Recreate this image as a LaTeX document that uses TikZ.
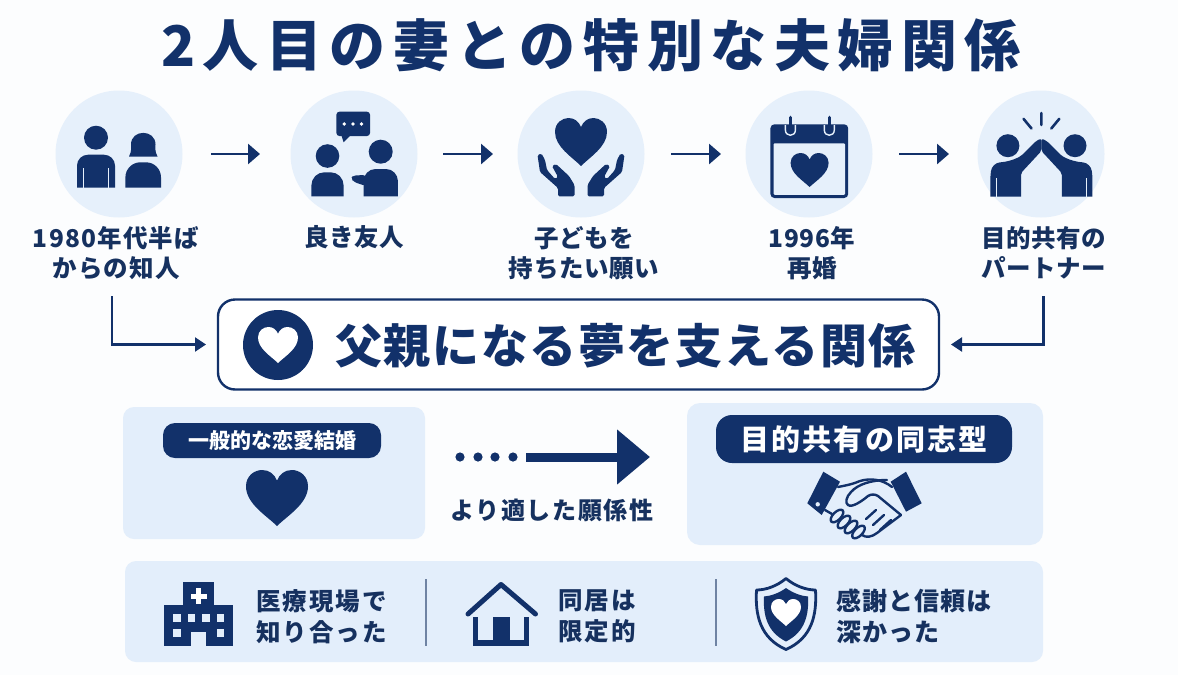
\documentclass[tikz,border=0pt]{standalone}
\usepackage{fontspec}
\setmainfont{Noto Sans CJK JP}
\usetikzlibrary{arrows.meta,shapes.geometric}
\definecolor{navy}{HTML}{12316A}
\definecolor{ink}{HTML}{16315F}
\definecolor{circ}{HTML}{E6F0FB}
\definecolor{panel}{HTML}{E3EEFB}
\definecolor{bgc}{HTML}{FCFDFE}
\definecolor{rule}{HTML}{6F83A3}
\newcommand{\jpf}[2]{\fontsize{#1}{#1}\selectfont\bfseries\addfontfeature{LetterSpace=#2}}
\newcommand{\heartat}[5]{\fill[#5,shift={(#1,#2)},xscale=#3,yscale=#4] (0,1) .. controls (-0.35,0.62) and (-1,0.2) .. (-1,-0.42) .. controls (-1,-0.8) and (-0.72,-1) .. (-0.48,-1) .. controls (-0.25,-1) and (-0.08,-0.85) .. (0,-0.62) .. controls (0.08,-0.85) and (0.25,-1) .. (0.48,-1) .. controls (0.72,-1) and (1,-0.8) .. (1,-0.42) .. controls (1,0.2) and (0.35,0.62) .. (0,1) -- cycle;}
\tikzset{
  stepdisc/.style={circle,fill=circ,minimum size=127pt,inner sep=0pt,outer sep=0pt},
  steplabel/.style={text=ink,align=center,inner sep=0pt,font={\jpf{24.5}{2.5}\baselineskip=29.5pt}},
  panelbox/.style={rectangle,fill=panel,rounded corners=11pt,inner sep=0pt,outer sep=0pt},
  pillbox/.style={rectangle,fill=navy,rounded corners=13pt,inner sep=0pt,outer sep=0pt,text=white},
  sidetext/.style={text=ink,align=left,anchor=west,inner sep=0pt,font={\jpf{24.5}{8}\baselineskip=31pt}},
  flow/.style={draw=navy,line width=2.8pt,-{Triangle[length=12pt,width=20pt]}},
  feed/.style={draw=navy,line width=2.1pt,-{Triangle[length=11pt,width=14pt]}},
  ico/.style={fill=navy},
  hs/.style={draw=navy,line width=2.4pt,line cap=round,line join=round},
}
\begin{document}
\begin{tikzpicture}[x=1pt,y=-1pt]
\useasboundingbox (0,0) rectangle (1178,675);
\fill[bgc] (0,0) rectangle (1178,675);

\node[text=navy,inner sep=0pt,font={\jpf{56}{13.5}}] (title) at (591,45) {2人目の妻との特別な夫婦関係};

% step discs
\node[stepdisc] (c1) at (119,154) {};
\node[stepdisc] (c2) at (354,154) {};
\node[stepdisc] (c3) at (581,154) {};
\node[stepdisc] (c4) at (809,154) {};
\node[stepdisc] (c5) at (1041,154) {};

\draw[flow,shorten <=28.5pt,shorten >=30.5pt] (c1) -- (c2);
\draw[flow,shorten <=25.5pt,shorten >=24.5pt] (c2) -- (c3);
\draw[flow,shorten <=26.5pt,shorten >=24.5pt] (c3) -- (c4);
\draw[flow,shorten <=26.5pt,shorten >=28.5pt] (c4) -- (c5);

% labels
\node[steplabel,font={\jpf{24.5}{5}\baselineskip=29.5pt}] (l1) at (116,253) {1980年代半ば\\からの知人};
\node[steplabel] (l2) at (354,237) {良き友人};
\node[steplabel] (l3) at (584,253) {子どもを\\持ちたい願い};
\node[steplabel] (l4) at (812,253) {1996年\\再婚};
\node[steplabel] (l5) at (1044,253) {目的共有の\\パートナー};

% icon 1: two people
\fill[ico] (96,137.7) circle[radius=12pt];
\fill[ico] (77,187.7) [rounded corners=11pt] -- (77,154.7) -- (115,154.7) [sharp corners] -- (115,187.7) -- cycle;
\draw[circ,line width=1pt] (83.5,168) -- (83.5,187.7) (108.5,168) -- (108.5,187.7);
\fill[ico] (125.4,187.7) [rounded corners=15pt] -- (125.4,162.3) -- (161,162.3) [sharp corners] -- (161,187.7) -- cycle;
\fill[ico] (129,156.5) .. controls (132,151) and (131,147) .. (131,144.5) .. controls (131,129) and (155.5,129) .. (155.5,144.5) .. controls (155.5,147) and (154.5,151) .. (157.5,156.5) -- cycle;

% icon 2: two people talking
\fill[ico,rounded corners=3pt] (336.4,111.7) rectangle (370,136);
\fill[ico] (341,134) -- (343.6,142.3) -- (352,134) -- cycle;
\foreach \dx in {344.3,352.9,361.4} \fill[white] (\dx,124) circle[radius=1.9pt];
\fill[ico] (327.5,156) circle[radius=11.8pt];
\fill[ico] (311.4,196.3) [rounded corners=13pt] -- (311.4,172.3) -- (343.6,172.3) [sharp corners] -- (343.6,196.3) -- cycle;
\fill[ico] (380.7,151.7) circle[radius=12pt];
\fill[ico] (363.6,196.3) [rounded corners=12pt] -- (363.6,169) -- (397.9,169) [sharp corners] -- (397.9,196.3) -- cycle;
\fill[ico,rounded corners=3pt] (366,175) -- (353,175.5) -- (351,178.5) -- (354,182) -- (366,186) -- cycle;

% icon 3: heart in hands
\heartat{581}{142}{26}{24}{navy}
\fill[ico,rounded corners=1.5pt] (541.5,153.5) -- (537.5,155) -- (540,172) -- (558,188) -- (558,196.3) -- (574.5,196.3) -- (574.5,185) -- (569,176) -- (556,164) -- (552,166) -- (558,177) -- (555,179) -- (547,170) -- (545,160) -- cycle;
\fill[ico,rounded corners=1.5pt] (620.5,153.5) -- (624.5,155) -- (622,172) -- (604,188) -- (604,196.3) -- (587.5,196.3) -- (587.5,185) -- (593,176) -- (606,164) -- (610,166) -- (604,177) -- (607,179) -- (615,170) -- (617,160) -- cycle;

% icon 4: calendar
\fill[ico,rounded corners=4pt] (770.4,124.3) rectangle (848.2,198);
\fill[circ,rounded corners=1pt] (773.6,143.3) rectangle (845,194.8);
\foreach \rx in {790.4,829.3}{
  \draw[circ,line width=1.4pt] (\rx-5,125) -- (\rx-5,130) .. controls (\rx-5,137) and (\rx+5,137) .. (\rx+5,130) -- (\rx+5,125);
  \draw[navy,line width=3.6pt,line cap=round] (\rx,117.5) -- (\rx,131);
}
\heartat{809.6}{170}{19}{17}{navy}

% icon 5: high five
\fill[ico] (1007.9,145.7) circle[radius=11.5pt];
\fill[ico] (1075,145.7) circle[radius=11.5pt];
\fill[ico,rounded corners=2.5pt] (990.4,196.7) -- (990.4,176) [rounded corners=8pt] -- (992,163) -- (1010,161.5) [rounded corners=2pt] -- (1021,156) -- (1036,141) -- (1041.4,138.5) -- (1041.4,151) -- (1021,173) [sharp corners] -- (1021,196.7) -- cycle;
\fill[ico,rounded corners=2.5pt] (1092.4,196.7) -- (1092.4,176) [rounded corners=8pt] -- (1090.8,163) -- (1072.8,161.5) [rounded corners=2pt] -- (1061.8,156) -- (1046.8,141) -- (1041.4,138.5) -- (1041.4,151) -- (1061.8,173) [sharp corners] -- (1061.8,196.7) -- cycle;
\draw[circ,line width=1pt] (996,178) -- (996,196.7) (1086.8,178) -- (1086.8,196.7);
\draw[navy,line width=2.6pt,line cap=round] (1041.4,113) -- (1041.4,125) (1023.5,118.8) -- (1031.5,128.5) (1059.3,118.8) -- (1051.3,128.5);

% central box
\node[draw=navy,line width=2.4pt,fill=white,rounded corners=17pt,minimum width=721pt,minimum height=90pt,inner sep=0pt,outer sep=0pt] (hero) at (578.5,344.5) {};
\fill[ico] (278,345) circle[radius=35pt];
\heartat{278}{345}{20}{18}{white}
\node[text=navy,inner sep=0pt,font={\jpf{47}{3.5}}] (herotext) at (625.5,346) {父親になる夢を支える関係};

\coordinate (s1) at (112,296);
\coordinate (s5) at (1043.5,296);
\draw[feed,shorten >=12pt] (s1) |- (hero.west);
\draw[feed,shorten >=12pt] (s5) |- (hero.east);

% left comparison panel
\node[panelbox,minimum width=302pt,minimum height=132pt] (pl) at (274,473) {};
\node[pillbox,rounded corners=12pt,minimum width=218pt,minimum height=35pt,font={\jpf{21}{0}}] (pilll) at (272,440.5) {一般的な恋愛結婚};
\heartat{277}{498}{31}{28}{navy}

% middle arrow
\foreach \dx in {460,478,495,513} \fill[navy] (\dx,457) circle[radius=4.6pt];
\coordinate (b0) at (526,457);
\coordinate (b1) at (650,457);
\draw[navy,line width=9pt,-{Triangle[length=33pt,width=53pt]}] (b0) -- (b1);
\node[text=ink,inner sep=0pt,font={\jpf{24}{7}}] (midl) at (552,510) {より適した願係性};

% right comparison panel
\node[panelbox,minimum width=356pt,minimum height=142pt,rounded corners=13pt] (pr) at (865,474) {};
\node[pillbox,rounded corners=16pt,minimum width=296pt,minimum height=48pt,font={\jpf{29}{7}}] (pillr) at (864,439) {目的共有の同志型};

% handshake
\fill[ico] (823.3,471.7) -- (840,481.7) -- (821.7,515) -- (807.3,503.3) -- cycle;
\fill[ico] (906,471.7) -- (921.7,503.3) -- (906,511.7) -- (890.7,481.7) -- cycle;
\fill[panel] (817.7,504.3) circle[radius=2.2pt];
\draw[hs] (838,487) .. controls (848,485) and (853,484) .. (860,481) .. controls (870,478) and (882,479) .. (892,487);
\draw[hs] (887,480) .. controls (872,480) and (858,484) .. (851,492) .. controls (846,497) and (845,503) .. (848,505) .. controls (852,508) and (862,501) .. (868,496) .. controls (871,494) and (875,494) .. (878,496) -- (901,515);
\draw[hs] (901,515) -- (877,533) .. controls (872,537) and (866,538) .. (862,535);
\draw[hs] (825,510) -- (832,514);
\foreach \fx/\fy in {837/516,844/522,851/527,858.5/532}
  \draw[hs,fill=panel,rotate around={45:(\fx,\fy)}] (\fx,\fy) ellipse[x radius=8pt,y radius=4pt];
\draw[hs] (866,519) -- (876,510) (873,525) -- (884,515) (880,530) -- (891,520);

% bottom panel
\node[panelbox,minimum width=918pt,minimum height=101pt] (pb) at (584,611.5) {};
\draw[rule,line width=1.6pt] (426,579) -- (426,646);
\draw[rule,line width=1.6pt] (716,579) -- (716,646);

% hospital
\fill[ico] (183.3,581.7) rectangle (214.3,606);
\fill[ico] (164.3,605) rectangle (233.3,646);
\fill[white] (196,588) rectangle (201,604);
\fill[white] (190.5,593.5) rectangle (206.5,598.5);
\foreach \wx in {173.3,187.7,202.3,216.7} \fill[panel] (\wx,614.3) rectangle ++(7.7,8);
\foreach \wx in {173.3,216.7} \fill[panel] (\wx,629) rectangle ++(7.7,8.3);
\fill[panel] (191,631.7) rectangle (206,646);
\node[sidetext] (t1) at (256,616.5) {医療現場で\\知り合った};

% house
\draw[navy,line width=5pt,line cap=round,line join=round] (468,614) -- (501,584.5) -- (535.5,614);
\fill[ico] (473.3,617.3) rectangle (478.3,646);
\fill[ico] (524.3,617.3) rectangle (529.3,646);
\fill[ico] (473.3,640) rectangle (529.3,646);
\fill[ico] (492.7,617.3) rectangle (510,646);
\node[sidetext] (t2) at (558,616.5) {同居は\\限定的};

% shield
\draw[navy,line width=2.8pt,fill=panel,line join=round] (786,578.5) .. controls (795,586) and (806,590) .. (815.5,590) .. controls (817,615) and (812,638) .. (786,649.5) .. controls (760,638) and (755,615) .. (756.5,590) .. controls (766,590) and (777,586) .. (786,578.5) -- cycle;
\fill[ico] (786,588) .. controls (793,593) and (801,596) .. (808,596.5) .. controls (809,615) and (805,632) .. (786,641.5) .. controls (767,632) and (763,615) .. (764,596.5) .. controls (771,596) and (779,593) .. (786,588) -- cycle;
\heartat{786}{612.5}{15}{13.5}{white}
\node[sidetext,font={\jpf{25}{4.5}\baselineskip=31pt}] (t3) at (836,616.5) {感謝と信頼は\\深かった};
\end{tikzpicture}
\end{document}
